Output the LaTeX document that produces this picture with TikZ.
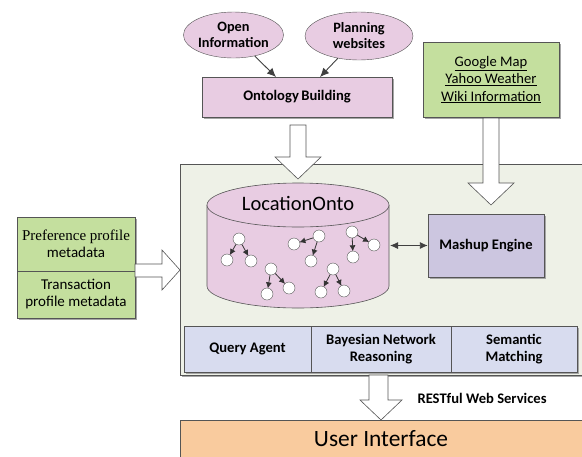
\documentclass[tikz,border=0pt]{standalone}
\usepackage{fontspec}
\setmainfont{Carlito}
\newfontfamily\seriffont{Liberation Serif}
\usetikzlibrary{shapes.geometric,arrows.meta}
\definecolor{pinkc}{HTML}{E8CCE2}
\definecolor{greenc}{HTML}{C4DF9E}
\definecolor{mashc}{HTML}{CCC6E0}
\definecolor{bluec}{HTML}{D8DCEF}
\definecolor{contc}{HTML}{EEF1E7}
\definecolor{uic}{HTML}{F9CB9E}
\definecolor{edgec}{HTML}{555555}
\definecolor{shadc}{HTML}{A6A6A6}
\tikzset{
  x=1pt, y=-1pt,
  oval/.style={ellipse, draw=edgec, fill=pinkc, inner sep=0pt, font=\fontsize{14.3}{16}\selectfont\bfseries, align=center},
  box/.style={rectangle, draw=edgec, inner sep=0pt, align=center, font=\fontsize{14.6}{16.5}\selectfont\bfseries},
  tnode/.style={circle, draw=edgec, fill=white, minimum size=12pt, inner sep=0pt},
  tarr/.style={-{Latex[length=6pt,width=6pt]}, draw=black!80, line width=0.8pt, shorten >=-0.5pt},
  barrow/.style={draw=edgec, fill=white, line width=0.6pt, line join=miter},
}
\begin{document}
\begin{tikzpicture}
\useasboundingbox (0,0) rectangle (582,456);
\clip (0,0) rectangle (582,456);

% container
\fill[shadc] (182,166) rectangle (584,377);
\node[rectangle, draw=edgec, fill=contc, minimum width=402pt, minimum height=211pt, inner sep=0pt] (cont) at (381,269.5) {};

% top ellipses
\node[oval, minimum width=93pt, minimum height=46pt] (open) at (233.5,35) {Open\\Information};
\node[oval, minimum width=108pt, minimum height=48pt] (plan) at (359,36) {Planning\\websites};

% ontology building
\fill[shadc] (204,79) rectangle (394,119);
\node[box, fill=pinkc, minimum width=190pt, minimum height=40pt] (onto) at (297,97) {Ontology\,Building};
\draw[-{Latex[length=9pt,width=8pt]}, draw=black!75, line width=0.9pt] (open) -- (276,77);
\draw[-{Latex[length=9pt,width=8pt]}, draw=black!75, line width=0.9pt] (plan) -- (320,77);

% green source box
\fill[shadc] (425,44) rectangle (561,119);
\node[box, fill=greenc, minimum width=136pt, minimum height=75pt, font=\fontsize{14.6}{17.5}\selectfont] (src) at (491,79.5) {\underline{Google Map}\\\underline{Yahoo Weather}\\\underline{Wiki Information}};

% block arrow onto -> container
\draw[barrow] (290,125) -- (306,125) -- (306,157) -- (321,157) -- (298,179) -- (275,157) -- (290,157) -- cycle;
% block arrow src -> mashup
\draw[barrow] (483,118) -- (499,118) -- (499,183) -- (514,183) -- (491,205) -- (468,183) -- (483,183) -- cycle;

% cylinder
\fill[pinkc] (207,205) -- (207,286) arc[start angle=180, end angle=360, x radius=91pt, y radius=22pt] -- (389,205) -- cycle;
\draw[edgec, line width=0.6pt] (207,205) -- (207,286) arc[start angle=180, end angle=360, x radius=91pt, y radius=22pt] -- (389,205);
\draw[edgec, line width=0.6pt, fill=pinkc] (298,205) ellipse[x radius=91pt, y radius=22pt];
\node[font=\fontsize{20.5}{22}\selectfont] (locname) at (298,203) {LocationOnto};

% trees
\node[tnode] (a1) at (239,239) {};
\node[tnode] (a2) at (227,260) {};
\node[tnode] (a3) at (251,261) {};
\draw[tarr] (a1) -- (a2); \draw[tarr] (a1) -- (a3);
\node[tnode] (b1) at (319,236) {};
\node[tnode] (b2) at (294,244) {};
\node[tnode] (b3) at (311,261) {};
\draw[tarr] (b1) -- (b2); \draw[tarr] (b1) -- (b3);
\node[tnode] (c1) at (352,232) {};
\node[tnode] (c2) at (374,245) {};
\node[tnode] (c3) at (353,257) {};
\draw[tarr] (c1) -- (c2); \draw[tarr] (c1) -- (c3);
\node[tnode] (d1) at (271,269) {};
\node[tnode] (d2) at (267,294) {};
\node[tnode] (d3) at (289,288) {};
\draw[tarr] (d1) -- (d2); \draw[tarr] (d1) -- (d3);
\node[tnode] (e1) at (333,269) {};
\node[tnode] (e2) at (321,292) {};
\node[tnode] (e3) at (344,291) {};
\draw[tarr] (e1) -- (e2); \draw[tarr] (e1) -- (e3);

% mashup engine
\fill[shadc] (430,216) rectangle (546,279);
\node[box, fill=mashc, minimum width=116pt, minimum height=63pt] (mash) at (486,245.5) {Mashup Engine};
\coordinate (cylr) at (390,245.5);
\draw[{Latex[length=8pt,width=7pt]}-{Latex[length=8pt,width=7pt]}, draw=black!75, line width=0.9pt] (cylr) -- (mash.west);

% bottom boxes
\fill[shadc] (186,328) rectangle (579,374);
\node[box, fill=bluec, minimum width=127pt, minimum height=46pt] (query) at (247.5,349) {Query Agent};
\node[box, fill=bluec, minimum width=140pt, minimum height=46pt] (bayes) at (381,349) {Bayesian Network\\Reasoning};
\node[box, fill=bluec, minimum width=126pt, minimum height=46pt] (sem) at (514,349) {Semantic\\Matching};

% left profile boxes
\fill[shadc] (19,219) rectangle (137,320);
\node[box, fill=greenc, minimum width=118pt, minimum height=54pt, font=\fontsize{15}{17}\selectfont] (pref) at (76,244) {{\seriffont Preference profile}\\metadata};
\node[box, fill=greenc, minimum width=118pt, minimum height=47pt, font=\fontsize{15}{17}\selectfont] (trans) at (76,294.5) {Transaction\\profile metadata};
\draw[barrow] (135,264) -- (162,264) -- (162,250) -- (180,270) -- (162,290) -- (162,277) -- (135,277) -- cycle;

% bottom arrow and UI
\draw[barrow] (369,375) -- (388,375) -- (388,400) -- (402,400) -- (381,420) -- (360,400) -- (369,400) -- cycle;
\node[font=\fontsize{14.6}{16}\selectfont\bfseries, anchor=west] (rest) at (414,398) {RESTful Web Services};
\node[rectangle, draw=edgec, fill=uic, minimum width=404pt, minimum height=40pt, inner sep=0pt] (ui) at (382,440) {};
\node[font=\fontsize{23.4}{25}\selectfont] (uitext) at (381,439) {User Interface};
\end{tikzpicture}
\end{document}
